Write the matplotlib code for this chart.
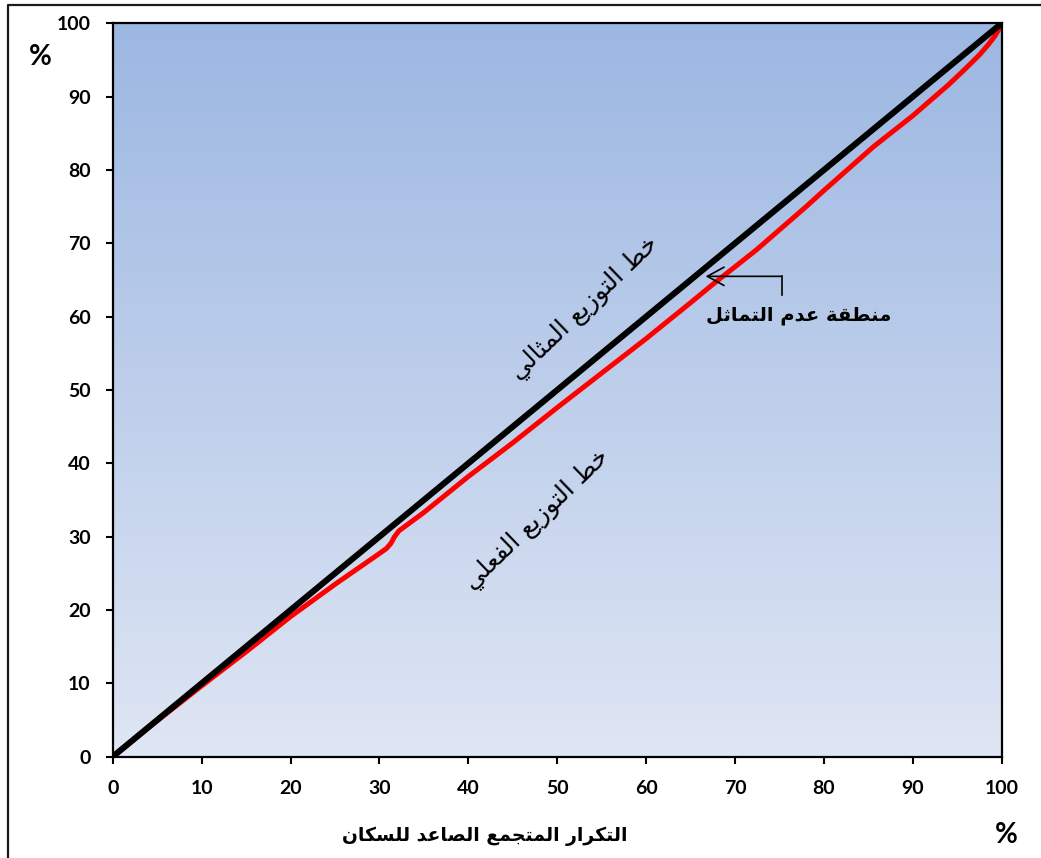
import numpy as np
import matplotlib
matplotlib.use("Agg")
import matplotlib.pyplot as plt
from matplotlib.lines import Line2D

# ---------------- data ----------------
pop_cum = [0, 5, 10, 15, 20, 25, 30, 30.8, 31.3, 31.7, 32.2, 35, 40, 45, 50, 55, 60,
           65, 67.6, 72.4, 78, 80, 85.6, 90, 94.0, 96.0, 97.5, 98.5, 99.2, 99.7, 100]
income_cum = [0, 4.9, 9.65, 14.3, 19.1, 23.5, 27.7, 28.4, 29.1, 30.0, 30.8, 33.3, 38.2,
              42.8, 47.6, 52.3, 57.0, 61.9, 64.5, 69.1, 75.0, 77.2, 83.2, 87.4,
              91.6, 93.9, 95.7, 97.1, 98.2, 99.2, 100]
ideal_x = [0, 100]
ideal_y = [0, 100]
ticks = [0, 10, 20, 30, 40, 50, 60, 70, 80, 90, 100]

label_ideal = "خط التوزيع المثالي"
label_actual = "خط التوزيع الفعلي"
label_gap = "منطقة عدم التماثل"
xlabel_text = "التكرار المتجمع الصاعد للسكان"

# ------------- minimal Arabic shaping (presentation forms) -------------
FORMS = {
    'ا': ('\uFE8D', '\uFE8E', None, None),
    'ة': ('\uFE93', '\uFE94', None, None),
    'ت': ('\uFE95', '\uFE96', '\uFE97', '\uFE98'),
    'ث': ('\uFE99', '\uFE9A', '\uFE9B', '\uFE9C'),
    'ج': ('\uFE9D', '\uFE9E', '\uFE9F', '\uFEA0'),
    'خ': ('\uFEA5', '\uFEA6', '\uFEA7', '\uFEA8'),
    'د': ('\uFEA9', '\uFEAA', None, None),
    'ر': ('\uFEAD', '\uFEAE', None, None),
    'ز': ('\uFEAF', '\uFEB0', None, None),
    'س': ('\uFEB1', '\uFEB2', '\uFEB3', '\uFEB4'),
    'ص': ('\uFEB9', '\uFEBA', '\uFEBB', '\uFEBC'),
    'ط': ('\uFEC1', '\uFEC2', '\uFEC3', '\uFEC4'),
    'ع': ('\uFEC9', '\uFECA', '\uFECB', '\uFECC'),
    'ف': ('\uFED1', '\uFED2', '\uFED3', '\uFED4'),
    'ق': ('\uFED5', '\uFED6', '\uFED7', '\uFED8'),
    'ك': ('\uFED9', '\uFEDA', '\uFEDB', '\uFEDC'),
    'ل': ('\uFEDD', '\uFEDE', '\uFEDF', '\uFEE0'),
    'م': ('\uFEE1', '\uFEE2', '\uFEE3', '\uFEE4'),
    'ن': ('\uFEE5', '\uFEE6', '\uFEE7', '\uFEE8'),
    'و': ('\uFEED', '\uFEEE', None, None),
    'ي': ('\uFEF1', '\uFEF2', '\uFEF3', '\uFEF4'),
}


def shape(text):
    out = []
    n = len(text)
    for i, ch in enumerate(text):
        if ch not in FORMS:
            out.append(ch)
            continue
        f = FORMS[ch]
        prev = text[i - 1] if i > 0 else None
        nxt = text[i + 1] if i < n - 1 else None
        join_prev = prev in FORMS and FORMS[prev][2] is not None
        join_next = (f[2] is not None) and (nxt in FORMS)
        if join_prev and join_next:
            out.append(f[3])
        elif join_prev:
            out.append(f[1])
        elif join_next:
            out.append(f[2])
        else:
            out.append(f[0])
    return ''.join(out)[::-1]


AR = ['DejaVu Sans']
NUM = ['Lato', 'DejaVu Sans']

# ---------------- figure ----------------
fig = plt.figure(figsize=(10.41, 8.58), dpi=100)
fig.patch.set_facecolor('white')
ax = fig.add_axes([0.1083, 0.1181, 0.9622 - 0.1083, 0.9728 - 0.1181])

# gradient background
grad = np.linspace(0, 1, 256).reshape(-1, 1)
top = np.array([0.612, 0.718, 0.886])
bot = np.array([0.875, 0.902, 0.957])
img = top[None, None, :] * (1 - grad[:, :, None]) + bot[None, None, :] * grad[:, :, None]
ax.imshow(img, extent=[0, 100, 0, 100], aspect='auto', origin='upper', zorder=0)

ax.plot(pop_cum, income_cum, color='#ff0000', lw=3.6, zorder=2,
        solid_joinstyle='round', solid_capstyle='round')
ax.plot(ideal_x, ideal_y, color='black', lw=4.4, zorder=3, solid_capstyle='butt')

ax.set_xlim(0, 100)
ax.set_ylim(0, 100)
ax.set_xticks(ticks)
ax.set_yticks(ticks)
ax.set_xticklabels([str(t) for t in ticks], fontfamily=NUM, fontweight='bold', fontsize=14)
ax.set_yticklabels([str(t) for t in ticks], fontfamily=NUM, fontweight='bold', fontsize=14)
ax.tick_params(axis='both', direction='out', length=5, width=1.5, color='black')
ax.tick_params(axis='y', pad=11)
ax.tick_params(axis='x', pad=12)
for s in ax.spines.values():
    s.set_linewidth(1.6)
    s.set_color('black')
    s.set_zorder(5)

# labels on the lines
ax.text(53.1, 61.2, shape(label_ideal), rotation=44, ha='center', va='center',
        fontfamily=AR, fontsize=18, color='black', zorder=4, rotation_mode='anchor')
ax.text(47.7, 32.3, shape(label_actual), rotation=44, ha='center', va='center',
        fontfamily=AR, fontsize=18, color='black', zorder=4, rotation_mode='anchor')
ax.text(77.2, 60.1, shape(label_gap), ha='center', va='center',
        fontfamily=AR, fontweight='bold', fontsize=14, color='black', zorder=4)

# bent arrow
ax.plot([75.25, 75.25], [62.9, 65.5], color='black', lw=1.2, zorder=4)
ax.annotate('', xy=(66.7, 65.5), xytext=(75.25, 65.5),
            arrowprops=dict(arrowstyle='->,head_length=0.4,head_width=0.22',
                            lw=1.2, color='black', shrinkA=0, shrinkB=0,
                            mutation_scale=30), zorder=4)

# axis titles
fig.text(0.466, 0.0256, shape(xlabel_text), ha='center', va='center',
         fontfamily=AR, fontweight='bold', fontsize=13.5)
fig.text(0.0384, 0.9336, '%', ha='center', va='center', fontfamily=NUM,
         fontweight='bold', fontsize=20)
fig.text(0.9664, 0.0268, '%', ha='center', va='center', fontfamily=NUM,
         fontweight='bold', fontsize=20)

# outer frame (partially visible)
W, H = 1041.0, 858.0
fig.add_artist(Line2D([7.5 / W, 7.5 / W, 1.0], [0.0, 1 - 5 / H, 1 - 5 / H],
                      transform=fig.transFigure, color='#1a1a1a', lw=1.6))

fig.savefig('out.png', dpi=100, facecolor='white')
